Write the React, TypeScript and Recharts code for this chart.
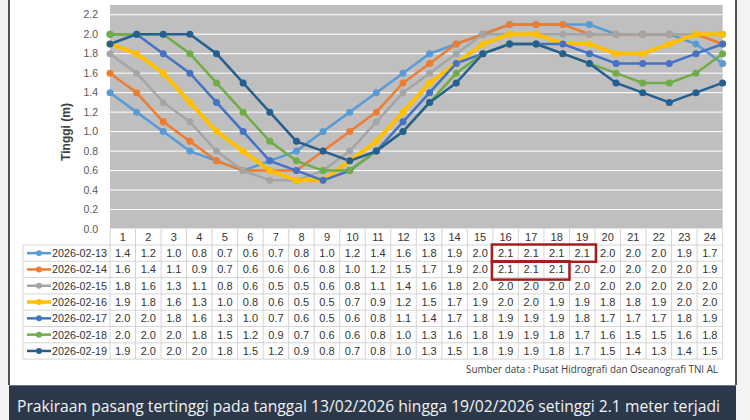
import React from "react"
import { LineChart, Line, XAxis, YAxis, CartesianGrid } from "recharts"

const hours = [1, 2, 3, 4, 5, 6, 7, 8, 9, 10, 11, 12, 13, 14, 15, 16, 17, 18, 19, 20, 21, 22, 23, 24]
const yTicks = [0, 0.2, 0.4, 0.6, 0.8, 1.0, 1.2, 1.4, 1.6, 1.8, 2.0, 2.2]

const feb13 = [1.4, 1.2, 1.0, 0.8, 0.7, 0.6, 0.7, 0.8, 1.0, 1.2, 1.4, 1.6, 1.8, 1.9, 2.0, 2.1, 2.1, 2.1, 2.1, 2.0, 2.0, 2.0, 1.9, 1.7]
const feb14 = [1.6, 1.4, 1.1, 0.9, 0.7, 0.6, 0.6, 0.6, 0.8, 1.0, 1.2, 1.5, 1.7, 1.9, 2.0, 2.1, 2.1, 2.1, 2.0, 2.0, 2.0, 2.0, 2.0, 1.9]
const feb15 = [1.8, 1.6, 1.3, 1.1, 0.8, 0.6, 0.5, 0.5, 0.6, 0.8, 1.1, 1.4, 1.6, 1.8, 2.0, 2.0, 2.0, 2.0, 2.0, 2.0, 2.0, 2.0, 2.0, 2.0]
const feb16 = [1.9, 1.8, 1.6, 1.3, 1.0, 0.8, 0.6, 0.5, 0.5, 0.7, 0.9, 1.2, 1.5, 1.7, 1.9, 2.0, 2.0, 1.9, 1.9, 1.8, 1.8, 1.9, 2.0, 2.0]
const feb17 = [2.0, 2.0, 1.8, 1.6, 1.3, 1.0, 0.7, 0.6, 0.5, 0.6, 0.8, 1.1, 1.4, 1.7, 1.8, 1.9, 1.9, 1.9, 1.8, 1.7, 1.7, 1.7, 1.8, 1.9]
const feb18 = [2.0, 2.0, 2.0, 1.8, 1.5, 1.2, 0.9, 0.7, 0.6, 0.6, 0.8, 1.0, 1.3, 1.6, 1.8, 1.9, 1.9, 1.8, 1.7, 1.6, 1.5, 1.5, 1.6, 1.8]
const feb19 = [1.9, 2.0, 2.0, 2.0, 1.8, 1.5, 1.2, 0.9, 0.8, 0.7, 0.8, 1.0, 1.3, 1.5, 1.8, 1.9, 1.9, 1.8, 1.7, 1.5, 1.4, 1.3, 1.4, 1.5]

const series = [
  { key: "2026-02-13", values: feb13, color: "#5B9BD5", width: 2.5 },
  { key: "2026-02-14", values: feb14, color: "#ED7D31", width: 2.5 },
  { key: "2026-02-15", values: feb15, color: "#A5A5A5", width: 2.5 },
  { key: "2026-02-16", values: feb16, color: "#FFC000", width: 4 },
  { key: "2026-02-17", values: feb17, color: "#4472C4", width: 2.5 },
  { key: "2026-02-18", values: feb18, color: "#70AD47", width: 2.5 },
  { key: "2026-02-19", values: feb19, color: "#255E91", width: 2.5 },
]

const chartData = hours.map((h, i) => {
  const row: Record<string, number | string> = { hour: String(h) }
  series.forEach((s) => (row[s.key] = s.values[i]))
  return row
})

// ── layout ───────────────────────────────────────────────────
const W = 750
const H = 420
const plotLeft = 110
const plotRight = 722.6
const plotTop = 5
const plotBottom = 229
const colW = (plotRight - plotLeft) / hours.length
const headTop = 229
const bodyTop = 245
const rowH = 16.3
const legendLeft = 23
const grid = "#d4d4d4"
const font = "'Liberation Sans', Arial, sans-serif"

function YTick({ x, y, payload }: any) {
  return (
    <text x={x} y={y} dy={3.5} textAnchor="end" fontSize={10.5} fill="#595959" fontFamily={font}>
      {Number(payload.value).toFixed(1)}
    </text>
  )
}

export default function App() {
  const bodyBottom = bodyTop + rowH * series.length
  const colX = (i: number) => plotLeft + i * colW

  return (
    <div style={{ position: "absolute", left: 0, top: 0, width: W, height: H, background: "#f3f3f3", overflow: "hidden" }}>
      {/* white card */}
      <div style={{ position: "absolute", left: 9, top: 0, width: 727, height: 385, background: "#ffffff" }} />

      <div style={{ position: "absolute", left: 0, top: 0 }}>
        <LineChart width={W} height={240} data={chartData} margin={{ top: plotTop, right: W - plotRight, left: 0, bottom: 240 - plotBottom }}>
          <CartesianGrid vertical={false} stroke="#ffffff" strokeWidth={1} fill="#bfbfbf" horizontalValues={yTicks} />
          <XAxis dataKey="hour" hide />
          <YAxis
            width={plotLeft}
            domain={[0, 2.3]}
            ticks={yTicks}
            interval={0}
            tick={<YTick />}
            axisLine={false}
            tickLine={false}
            tickMargin={6}
          />
          {series.map((s) => (
            <Line
              key={s.key}
              dataKey={s.key}
              stroke={s.color}
              strokeWidth={s.width}
              dot={{ r: 3.5, fill: s.color, stroke: s.color, strokeWidth: 0 }}
              isAnimationActive={false}
            />
          ))}
        </LineChart>
      </div>

      {/* overlay: axis title, data table, source, footer */}
      <svg width={W} height={H} style={{ position: "absolute", left: 0, top: 0, pointerEvents: "none" }} fontFamily={font}>
        <text x={70} y={132} transform="rotate(-90 70 132)" textAnchor="middle" fontSize={12} fontWeight="bold" fill="#404040">
          Tinggi  (m)
        </text>

        {/* table grid */}
        {hours.map((h, i) => (
          <line key={`v${h}`} x1={colX(i)} x2={colX(i)} y1={headTop} y2={bodyBottom} stroke={grid} />
        ))}
        <line x1={plotRight} x2={plotRight} y1={headTop} y2={bodyBottom} stroke={grid} />
        <line x1={legendLeft} x2={legendLeft} y1={bodyTop} y2={bodyBottom} stroke={grid} />
        {series.map((s, r) => (
          <line key={`h${s.key}`} x1={legendLeft} x2={plotRight} y1={bodyTop + r * rowH} y2={bodyTop + r * rowH} stroke={grid} />
        ))}
        <line x1={legendLeft} x2={plotRight} y1={bodyBottom} y2={bodyBottom} stroke={grid} />

        {hours.map((h, i) => (
          <text key={`t${h}`} x={colX(i) + colW / 2} y={headTop + 12} textAnchor="middle" fontSize={11} fill="#333333">
            {h}
          </text>
        ))}

        {series.map((s, r) => {
          const cy = bodyTop + r * rowH + rowH / 2
          return (
            <g key={`r${s.key}`}>
              <line x1={27} x2={51} y1={cy} y2={cy} stroke={s.color} strokeWidth={s.width === 4 ? 3.5 : 2.5} />
              <circle cx={39} cy={cy} r={3} fill={s.color} />
              <text x={52} y={cy + 4} fontSize={11} fill="#333333" textLength={55} lengthAdjust="spacingAndGlyphs">{s.key}</text>
              {s.values.map((v, i) => (
                <text key={i} x={colX(i) + colW / 2} y={cy + 4} textAnchor="middle" fontSize={11} fill="#333333">
                  {v.toFixed(1)}
                </text>
              ))}
            </g>
          )
        })}

        {/* highlighted maxima */}
        <rect x={colX(15) - 1} y={bodyTop - 0.5} width={colW * 4 + 2} height={rowH + 1} fill="none" stroke="#a3201f" strokeWidth={2.5} />
        <rect x={colX(15) - 1} y={bodyTop + rowH} width={colW * 3 + 1} height={rowH + 2} fill="none" stroke="#a3201f" strokeWidth={2.5} />

        <text x={718} y={373} textAnchor="end" fontSize={10.5} fill="#404040" textLength={252} lengthAdjust="spacingAndGlyphs" fontFamily="'Open Sans', sans-serif">
          Sumber data : Pusat Hidrografi dan Oseanografi TNI AL
        </text>

        {/* card borders */}
        <line x1={9} x2={9} y1={0} y2={385} stroke="#1a1a1a" strokeWidth={1.5} />
        <line x1={736} x2={736} y1={0} y2={385} stroke="#1a1a1a" strokeWidth={1.5} />

        {/* footer bar */}
        <rect x={9} y={385} width={727} height={40} fill="#2b394b" />
        <line x1={9} x2={736} y1={385.5} y2={385.5} stroke="#6b7a8b" strokeWidth={1} />
        <text x={17} y={412} fontSize={16} fill="#f2f2f2" textLength={703} lengthAdjust="spacingAndGlyphs" fontFamily="'Open Sans', sans-serif">
          Prakiraan pasang tertinggi  pada tanggal 13/02/2026 hingga 19/02/2026 setinggi 2.1 meter terjadi
        </text>
      </svg>
    </div>
  )
}
